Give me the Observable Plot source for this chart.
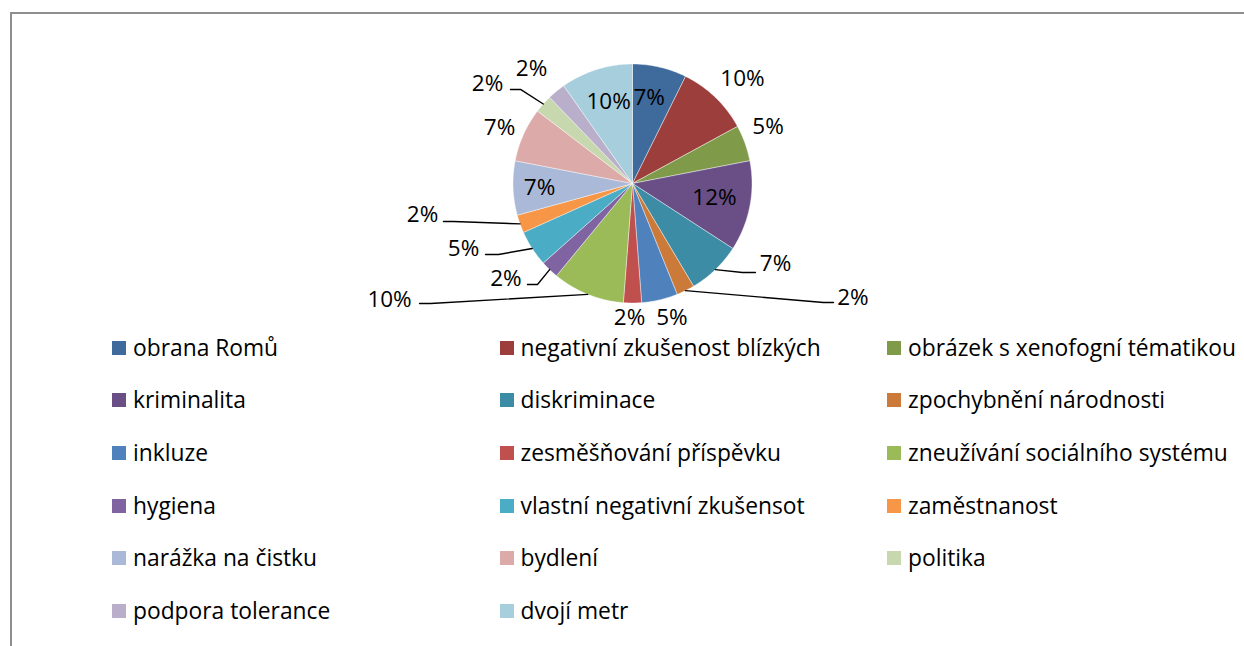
<!DOCTYPE html>
<html><head><meta charset="utf-8">
<script src="https://cdn.jsdelivr.net/npm/d3@7"></script>
<script src="https://cdn.jsdelivr.net/npm/@observablehq/plot@0.6"></script>
<style>
html,body{margin:0;padding:0;background:#fff;overflow:hidden;}
body{width:1244px;height:646px;position:relative;font-family:"Open Sans",sans-serif;}
#frame{position:absolute;left:10px;top:12px;width:1260px;height:660px;border-left:2px solid #8e8e8e;border-top:2px solid #8e8e8e;box-sizing:border-box;}
#chart{position:absolute;left:0;top:0;}
#legend{position:absolute;left:0;top:335.5px;}
#legend > div{display:flex !important;flex-wrap:wrap !important;margin:0 !important;padding-left:112px;width:1170px;min-height:0 !important;font-family:"Open Sans",sans-serif !important;font-size:22.8px !important;line-height:24px;color:#000;}
#legend > div > span{width:387.5px;height:24px;margin:0 0 28.7px 0 !important;display:inline-flex;align-items:center;white-space:nowrap;}
#legend > div > span > svg{margin-right:7px !important;flex:none;}
</style>
</head><body>
<div id="frame"></div>
<div id="chart"></div>
<div id="legend"></div>
<script>
// ---- data ----
const names = ["obrana Romů","negativní zkušenost blízkých","obrázek s xenofogní tématikou","kriminalita","diskriminace","zpochybnění národnosti","inkluze","zesměšňování příspěvku","zneužívání sociálního systému","hygiena","vlastní negativní zkušensot","zaměstnanost","narážka na čistku","bydlení","politika","podpora tolerance","dvojí metr"];
const counts = [3,4,2,5,3,1,2,1,4,1,2,1,3,3,1,1,4];
const colors = ["#3f6a9c","#9c3e3b","#7f9b49","#694f86","#3b8ca4","#cb7a39","#4f81bd","#c0504d","#9bbb59","#8064a2","#4bacc6","#f79646","#aab9d7","#dbaaa9","#c7d7ae","#b9afcb","#a7cedd"];

// ---- label layout (in pie-radius units) ----
const labelX = [0.14,0.92,1.134,0.686,1.197,1.845,0.33,-0.025,-2.033,-1.059,-1.414,-1.757,-0.778,-1.113,-1.213,-0.845,-0.2];
const labelY = [-0.72,-0.88,-0.477,0.117,0.67,0.954,1.128,1.128,0.97,0.795,0.544,0.259,0.033,-0.469,-0.837,-0.962,-0.682];
const leaderPts = {
  4: [[0.92,0.745],[1.029,0.745]],
  5: [[1.598,0.996],[1.682,0.996]],
  8: [[-1.69,1.004],[-1.782,1.004]],
  9: [[-0.795,0.845],[-0.879,0.845]],
  10: [[-1.121,0.594],[-1.23,0.594]],
  11: [[-1.498,0.318],[-1.582,0.318]],
  14: [[-0.937,-0.787],[-1.021,-0.787]]
};

const cx = 632, cy = 183, r = 119.5;
const total = d3.sum(counts);
const arcs = d3.pie().sort(null).value(d => d)(counts);
const slices = arcs.map((a, i) => ({name: names[i], count: counts[i], a0: a.startAngle, a1: a.endAngle}));

const wedge = slices.flatMap(s => {
  const n = Math.max(4, Math.ceil((s.a1 - s.a0) / 0.01));
  const pts = [{name: s.name, x: 0, y: 0}];
  for (let k = 0; k <= n; k++) {
    const a = s.a0 + (s.a1 - s.a0) * k / n;
    pts.push({name: s.name, x: Math.sin(a), y: -Math.cos(a)});
  }
  pts.push({name: s.name, x: 0, y: 0});
  return pts;
});

const labels = slices.map((s, i) => ({
  name: s.name, x: labelX[i], y: labelY[i], text: d3.format(".0%")(s.count / total)
}));

const leaders = [];
Object.entries(leaderPts).forEach(([k, pts]) => {
  const s = slices[+k];
  const m = (s.a0 + s.a1) / 2;
  leaders.push({name: s.name, x: Math.sin(m), y: -Math.cos(m)});
  pts.forEach(p => leaders.push({name: s.name, x: p[0], y: p[1]}));
});

const chart = Plot.plot({
  width: 1244, height: 335, margin: 0,
  style: {background: "transparent", fontFamily: "Open Sans"},
  x: {domain: [-1, 1], range: [cx - r, cx + r], axis: null},
  y: {domain: [-1, 1], range: [cy - r, cy + r], axis: null},
  color: {domain: names, range: colors},
  marks: [
    Plot.line(wedge, {x: "x", y: "y", z: "name", fill: "name", stroke: "#ffffff", strokeWidth: 0.6, strokeOpacity: 0.7}),
    Plot.line(leaders, {x: "x", y: "y", z: "name", stroke: "#000", strokeWidth: 1.4}),
    Plot.text(labels, {x: "x", y: "y", text: "text", fill: "#000", fontSize: 22.5, fontFamily: "Open Sans", textAnchor: "middle"})
  ]
});
document.getElementById("chart").appendChild(chart);

const legend = Plot.legend({
  color: {domain: names, range: colors},
  legend: "swatches",
  swatchSize: 14
});
document.getElementById("legend").appendChild(legend);
</script>
</body></html>
